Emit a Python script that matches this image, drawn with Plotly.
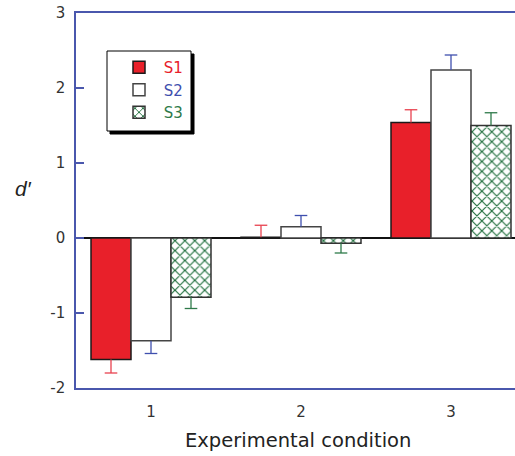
import plotly.graph_objects as go

categories = [1, 2, 3]
series_names = ["S1", "S2", "S3"]
s1_values = [-1.62, 0.01, 1.54]
s2_values = [-1.37, 0.15, 2.24]
s3_values = [-0.79, -0.07, 1.50]
s1_errors = [0.18, 0.16, 0.17]
s2_errors = [0.17, 0.15, 0.20]
s3_errors = [0.15, 0.13, 0.17]
y_ticks = [-2, -1, 0, 1, 2, 3]
y_tick_labels = ["-2", "-1", "0", "1", "2", "3"]

values = [s1_values, s2_values, s3_values]
errors = [s1_errors, s2_errors, s3_errors]
text_colors = ["#e8202a", "#3f4fae", "#2e7a4a"]
err_colors = ["#e8414f", "#3f4fae", "#2e7a4a"]

W, H = 515, 456
ML, MR, MT, MB = 76, 0, 13, 68
PW, PH = W - ML - MR, H - MT - MB
AXIS_BLUE = "#4a57ad"
BARGAP = 0.2
bw = (1 - BARGAP) / 3


def px_x(p):
    return (p - ML) / PW


def px_y(p):
    return (H - MB - p) / PH


fig = go.Figure()

bar_styles = [
    dict(color="#e8202a", line=dict(color="#1a1a1a", width=1.5)),
    dict(color="white", line=dict(color="#444444", width=1.5)),
    dict(color="white", line=dict(color="#333333", width=1.5),
         pattern=dict(shape="x", fgcolor="#1f6e3c", bgcolor="white",
                      size=7, solidity=0.3, fillmode="replace")),
]

for i, name in enumerate(series_names):
    fig.add_trace(go.Bar(
        x=categories, y=values[i],
        name=f'<span style="color:{text_colors[i]}"> {name}</span>',
        marker=bar_styles[i],
    ))

# error bars (one-sided, away from zero)
for i in range(3):
    xs, ys, cx, cy = [], [], [], []
    for c, v, e in zip(categories, values[i], errors[i]):
        xc = c + (i - 1) * bw
        tip = v + e if v >= 0 else v - e
        xs += [xc, xc, None]
        ys += [v, tip, None]
        cx.append(xc)
        cy.append(tip)
    fig.add_trace(go.Scatter(x=xs, y=ys, mode="lines", showlegend=False,
                             line=dict(color=err_colors[i], width=1.3),
                             hoverinfo="skip"))
    fig.add_trace(go.Scatter(x=cx, y=cy, mode="markers", showlegend=False,
                             marker=dict(symbol="line-ew", size=9,
                                         line=dict(color=err_colors[i], width=1.3)),
                             hoverinfo="skip"))

# legend box with shadow
bx0, bx1, by0, by1 = 107, 191, 51, 131
fig.add_shape(type="rect", xref="paper", yref="paper", layer="above",
              x0=px_x(bx0 + 3), x1=px_x(bx1 + 3), y0=px_y(by1 + 3), y1=px_y(by0 + 3),
              fillcolor="black", line=dict(color="black", width=1))
fig.add_shape(type="rect", xref="paper", yref="paper", layer="above",
              x0=px_x(bx0), x1=px_x(bx1), y0=px_y(by1), y1=px_y(by0),
              fillcolor="white", line=dict(color="black", width=1))

fig.add_annotation(text="<i>d′</i>", xref="paper", yref="paper",
                   x=px_x(23), y=px_y(188), xanchor="center", yanchor="middle",
                   showarrow=False,
                   font=dict(family="Liberation Sans", size=21, color="#222"))
fig.add_annotation(text="Experimental condition", xref="paper", yref="paper",
                   x=px_x(298), y=px_y(440), xanchor="center", yanchor="middle",
                   showarrow=False,
                   font=dict(family="DejaVu Sans", size=19.5, color="#222"))

fig.update_layout(
    width=W, height=H,
    margin=dict(l=ML, r=MR, t=MT, b=MB, pad=0),
    paper_bgcolor="white", plot_bgcolor="white",
    barmode="group", bargap=BARGAP, bargroupgap=0,
    font=dict(family="DejaVu Sans", size=15, color="#333"),
    legend=dict(x=px_x(119), y=px_y(51), xanchor="left", yanchor="top",
                bgcolor="rgba(0,0,0,0)", borderwidth=0,
                font=dict(size=15), tracegroupgap=0),
    xaxis=dict(range=[0.5, 0.5 + PW / 150.0], tickvals=categories,
               showline=True, linecolor=AXIS_BLUE, linewidth=1.5, mirror=True,
               showgrid=False, zeroline=False, ticks="",
               ticklabelstandoff=9),
    yaxis=dict(range=[-2, 3], tickvals=y_ticks, ticktext=y_tick_labels,
               showline=True, linecolor=AXIS_BLUE, linewidth=1.5, mirror=False,
               showgrid=False, zeroline=True, zerolinecolor="#111", zerolinewidth=1.5,
               ticks="inside", ticklen=8, tickcolor=AXIS_BLUE, tickwidth=1.5,
               ticklabelstandoff=6),
)

fig.write_html("out.html", config={"displayModeBar": False},
               post_script="document.body.style.margin='0';document.body.style.padding='0';")
